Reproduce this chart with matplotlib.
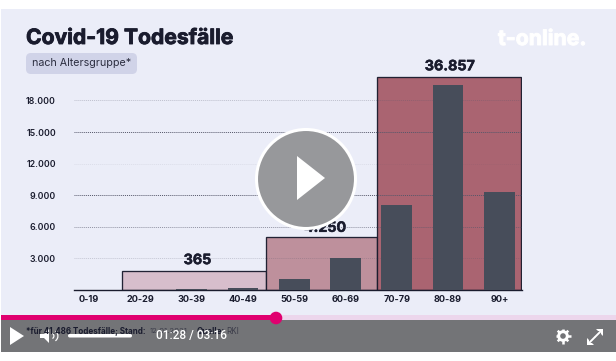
import matplotlib
matplotlib.use("Agg")
import matplotlib.pyplot as plt
import matplotlib.patheffects as pe
from matplotlib.patches import Circle, FancyBboxPatch, Polygon, Rectangle, Wedge

# Chart Data
age_groups = ["0-19", "20-29", "30-39", "40-49", "50-59", "60-69", "70-79", "80-89", "90+"]
deaths = [3, 20, 60, 190, 1050, 3040, 8070, 19430, 9300]
y_ticks = [3000, 6000, 9000, 12000, 15000, 18000]
y_tick_labels = ["3.000", "6.000", "9.000", "12.000", "15.000", "18.000"]
group_heights = [1790, 5000, 20190]
group_labels = ["365", "4.250", "36.857"]

W, H = 616, 361
INK = "#1a1c2e"
BG = "#ebedf8"
FONT = ["Inter", "Roboto", "DejaVu Sans"]

plt.rcParams["font.family"] = FONT


def Heavy(width, color=INK):
    # Inter Only Comes In A Lighter Weight Here, So Thicken The Strokes .
    return [pe.withStroke(linewidth=width, foreground=color)]


fig = plt.figure(figsize=(W / 100, H / 100), dpi=100, facecolor="white")

# Pixel Layer For The Video Frame
bg = fig.add_axes([0, 0, 1, 1], zorder=0)
bg.set_xlim(0, W)
bg.set_ylim(H, 0)
bg.axis("off")
bg.add_patch(Rectangle((1, 9), W - 1, 311, color=BG, lw=0))

# Chart Axes : Category 0 Is Centered At 89 px, One Category Is 51.3 px
left, right, top, base = 74, 522, 60, 290
ax = fig.add_axes([left / W, 1 - base / H, (right - left) / W, (base - top) / H], zorder=1)
ax.patch.set_alpha(0)
ax.set_xlim((left - 89) / 51.3, (right - 89) / 51.3)
ax.set_ylim(0, (base - top) / 31.6 * 3000)
for side in ["top", "left", "right"]:
    ax.spines[side].set_visible(False)
ax.spines["bottom"].set_color(INK)
ax.spines["bottom"].set_linewidth(1.0)

ax.set_xticks(range(len(age_groups)))
ax.set_xticklabels(age_groups, fontsize=6.6, fontweight="bold", color=INK)
ax.set_yticks(y_ticks)
ax.set_yticklabels(y_tick_labels, fontsize=6.3, fontweight="semibold", color=INK)
ax.tick_params(axis="both", length=0)
ax.tick_params(axis="x", pad=3.5)
ax.tick_params(axis="y", pad=13)
ax.grid(axis="y", color="#55576a", linewidth=0.7, linestyle=(0, (1, 1)))

# Grid Runs Over The Group Boxes But Under The Dark Bars
ax.set_axisbelow(False)

# Grid Lines At 3.000, 12.000 And 18.000 Look Much Fainter
for line, strength in zip(ax.get_ygridlines(), [0.25, 0.6, 1, 0.1, 1, 0.3]):
    line.set_alpha(strength)

# Group Boxes
group_edges = [(0.64, 3.45), (3.45, 5.61), (5.61, 8.43)]
group_colors = ["#d7bccb", "#bd8c98", "#a85e6c"]
label_shift = [(3.5, 11), (3.5, 9.5), (0.5, 11)]
for (x0, x1), height, color, label, shift in zip(group_edges, group_heights, group_colors, group_labels, label_shift):
    ax.bar(x0, height, width=x1 - x0, align="edge", color=color, alpha=0.96,
           edgecolor=INK, linewidth=0.95, zorder=2)
    ax.annotate(label, xy=((x0 + x1) / 2, height), xytext=(shift[0] * 0.72, shift[1] * 0.72),
                textcoords="offset points", ha="center", va="center", fontsize=10.3,
                fontweight="bold", color=INK, zorder=2.1, path_effects=Heavy(0.35))

ax.bar(range(len(age_groups)), deaths, width=0.6, color="#474d5a", zorder=3)

# Title And Subtitle
bg.text(26, 38, "Covid-19 Todesfälle", fontsize=15.2, fontweight="bold", color=INK, va="center",
        path_effects=Heavy(0.6))
bg.add_patch(FancyBboxPatch((26, 53), 111, 21, boxstyle="round,pad=0,rounding_size=5",
                            color="#d0d3e8", lw=0))
bg.text(32, 63.5, "nach Altersgruppe*", fontsize=7.7, color="#2c2e40", va="center")
bg.text(498, 39, "t-online.", fontsize=15.3, fontweight="bold", color="white", va="center",
        path_effects=Heavy(0.7, "white"))

# Video Controls On Top
ui = fig.add_axes([0, 0, 1, 1], zorder=5)
ui.set_xlim(0, W)
ui.set_ylim(H, 0)
ui.axis("off")
ui.patch.set_alpha(0)

ui.add_patch(Rectangle((1, 320), W - 1, 32, color="#737477", lw=0))
ui.add_patch(Rectangle((1, 315), W - 1, 5, color="#ecd6ec", lw=0))
ui.add_patch(Rectangle((1, 315), 275, 5, color="#e0006f", lw=0))
ui.add_patch(Circle((276, 318), 6.3, color="#e0006f", lw=0))

# Footnote Shows Through The Control Bar
ui.text(26, 331, "*für 41.486 Todesfälle; Stand:", fontsize=5.8, fontweight="bold", color=INK, va="center")
ui.text(150, 331, "12.01.2021", fontsize=5.5, color="#3c3d4a", va="center")
ui.text(196.5, 331, "Quelle:", fontsize=5.8, fontweight="bold", color=INK, va="center")
ui.text(226, 331, "RKI", fontsize=5.8, color="#3c3d4a", va="center")

ui.add_patch(Polygon([(10, 327), (10, 345), (24, 336)], color="white", lw=0))
ui.add_patch(Polygon([(40, 334), (44, 334), (49, 329), (49, 343), (44, 338), (40, 338)], color="white", lw=0))
ui.add_patch(Wedge((51, 336), 3.5, -60, 60, width=1.2, color="white", lw=0))
ui.add_patch(Wedge((52, 336), 6.5, -55, 55, width=1.2, color="white", lw=0))
ui.add_patch(FancyBboxPatch((68, 334), 64, 3.5, boxstyle="round,pad=0,rounding_size=1.7", color="white", lw=0))
ui.text(156, 335.5, "01:28 / 03:16", fontsize=8.6, color="white", va="center", family="Roboto",
        fontweight="medium")

# Settings Gear And Fullscreen Arrows
for dx, dy in [(7.5, 0), (0, 7.5), (5.3, 5.3), (5.3, -5.3)]:
    ui.plot([563 - dx, 563 + dx], [336 - dy, 336 + dy], color="white", linewidth=1.8, solid_capstyle="butt", zorder=3)
ui.add_patch(Circle((563, 336), 5.8, color="white", lw=0, zorder=4))
ui.add_patch(Circle((563, 336), 2.8, color="#737477", lw=0, zorder=5))
ui.add_patch(Polygon([(596, 329), (603, 329), (603, 336), (601, 334), (601, 331), (598, 331)], color="white", lw=0))
ui.plot([600.5, 595.5], [331.5, 336.5], color="white", linewidth=1.4)
ui.add_patch(Polygon([(587, 338), (589, 340), (589, 343), (592, 343), (594, 345), (587, 345)], color="white", lw=0))
ui.plot([589.5, 594.5], [342.5, 337.5], color="white", linewidth=1.4)

# Big Play Button
ui.add_patch(Circle((306, 179), 49.5, facecolor="#97989b", edgecolor="white", linewidth=2.2))
ui.add_patch(Polygon([(297, 156), (297, 200), (325, 178)], color="white", lw=0))

fig.savefig("out.png", dpi=100, facecolor="white")
